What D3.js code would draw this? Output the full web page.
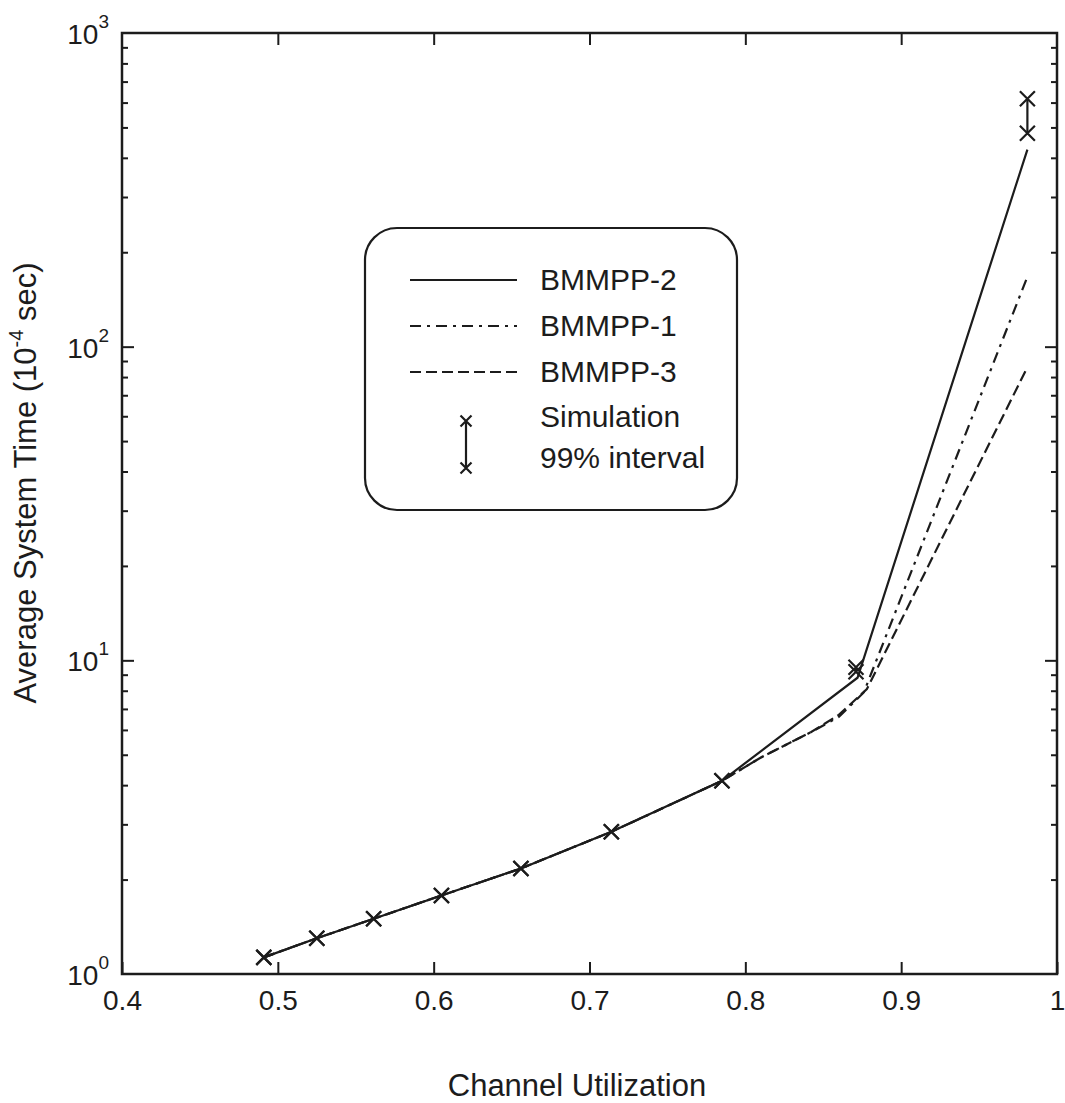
<!DOCTYPE html>
<html>
<head>
<meta charset="utf-8">
<script src="https://d3js.org/d3.v7.min.js"></script>
<style>
body { margin: 0; background: #fff; }
svg { font-family: "Liberation Sans", Arial, Helvetica, sans-serif; }
</style>
</head>
<body>
<svg id="chart" width="1065" height="1103"></svg>
<script>
// data
var xTicks = [0.4, 0.5, 0.6, 0.7, 0.8, 0.9, 1];
var yDecades = [1, 10, 100, 1000];
var yMinor = [2,3,4,5,6,7,8,9,20,30,40,50,60,70,80,90,200,300,400,500,600,700,800,900];

var simX    = [0.491, 0.525, 0.5615, 0.605, 0.656, 0.714, 0.785, 0.871, 0.981];
var simLow  = [1.13, 1.30, 1.50, 1.78, 2.17, 2.84, 4.13, 9.2, 479];
var simHigh = [1.13, 1.30, 1.50, 1.78, 2.17, 2.84, 4.13, 9.5, 617];

var bm2X = [0.491, 0.525, 0.5615, 0.605, 0.656, 0.714, 0.785, 0.872, 0.981];
var bm2Y = [1.13, 1.30, 1.50, 1.78, 2.17, 2.84, 4.13, 8.8, 425];

var bm1X = [0.491, 0.525, 0.5615, 0.605, 0.656, 0.714, 0.785, 0.81, 0.842, 0.86, 0.876, 0.981];
var bm1Y = [1.13, 1.30, 1.50, 1.78, 2.17, 2.84, 4.13, 4.9, 5.9, 6.6, 7.9, 167];

var bm3X = [0.491, 0.525, 0.5615, 0.605, 0.656, 0.714, 0.785, 0.81, 0.842, 0.86, 0.878, 0.981];
var bm3Y = [1.13, 1.30, 1.50, 1.78, 2.17, 2.84, 4.13, 4.9, 5.9, 6.7, 8.1, 86];

var legendNames = ["BMMPP-2", "BMMPP-1", "BMMPP-3"];
var legendDash = ["none", "11,6,3,6", "11,5"];

var ink = "#1c1c1c";
var svg = d3.select("#chart");

var x = d3.scaleLinear().domain([0.4, 1]).range([122, 1057]);
var y = d3.scaleLog().domain([1, 1000]).range([974, 33]);

// frame
svg.append("rect").attr("x", x(0.4)).attr("y", y(1000))
  .attr("width", x(1) - x(0.4)).attr("height", y(1) - y(1000))
  .attr("fill", "none").attr("stroke", ink).attr("stroke-width", 2.5);

function styleAxis(g) {
  g.select(".domain").remove();
  g.selectAll("line").attr("stroke", ink).attr("stroke-width", 2);
}

// x axis bottom with labels, top mirrored
var xb = svg.append("g").attr("transform", "translate(0," + y(1) + ")")
  .call(d3.axisBottom(x).tickValues(xTicks).tickSize(-12).tickPadding(16)
    .tickFormat(function(d) { return d === 1 ? "1" : d.toFixed(1); }));
styleAxis(xb);
xb.selectAll("text").attr("font-size", 28).attr("fill", ink)
  .attr("font-family", "Liberation Sans, Arial, sans-serif");

var xt = svg.append("g").attr("transform", "translate(0," + y(1000) + ")")
  .call(d3.axisTop(x).tickValues(xTicks.slice(1, -1)).tickSize(-12).tickFormat(""));
styleAxis(xt);

// y axes: majors, minors, left and right
var yl = svg.append("g").attr("transform", "translate(" + x(0.4) + ",0)")
  .call(d3.axisLeft(y).tickValues(yDecades.slice(1, -1)).tickSize(-12).tickFormat(""));
styleAxis(yl);
var ylm = svg.append("g").attr("transform", "translate(" + x(0.4) + ",0)")
  .call(d3.axisLeft(y).tickValues(yMinor).tickSize(-6).tickFormat(""));
styleAxis(ylm);
var yr = svg.append("g").attr("transform", "translate(" + x(1) + ",0)")
  .call(d3.axisRight(y).tickValues(yDecades.slice(1, -1)).tickSize(-12).tickFormat(""));
styleAxis(yr);
var yrm = svg.append("g").attr("transform", "translate(" + x(1) + ",0)")
  .call(d3.axisRight(y).tickValues(yMinor).tickSize(-6).tickFormat(""));
styleAxis(yrm);

// y labels 10^n
yDecades.forEach(function(d) {
  var t = svg.append("text").attr("x", x(0.4) - 13).attr("y", y(d) + 11)
    .attr("text-anchor", "end").attr("font-size", 28).attr("fill", ink);
  t.append("tspan").text("10");
  t.append("tspan").attr("font-size", 19).attr("dy", -16).text(Math.round(Math.log10(d)));
});

// curves
var line = d3.line().x(function(d) { return x(d[0]); }).y(function(d) { return y(d[1]); });
var series = [
  { xs: bm2X, ys: bm2Y, dash: legendDash[0] },
  { xs: bm1X, ys: bm1Y, dash: legendDash[1] },
  { xs: bm3X, ys: bm3Y, dash: legendDash[2] }
];
series.forEach(function(s) {
  svg.append("path").datum(d3.zip(s.xs, s.ys)).attr("d", line)
    .attr("fill", "none").attr("stroke", ink).attr("stroke-width", 2.2)
    .attr("stroke-dasharray", s.dash);
});

// simulation intervals and markers
function cross(g, cx, cy, h) {
  g.append("path").attr("d", "M" + (cx - h) + "," + (cy - h) + "L" + (cx + h) + "," + (cy + h) +
      "M" + (cx - h) + "," + (cy + h) + "L" + (cx + h) + "," + (cy - h))
    .attr("stroke", ink).attr("stroke-width", 2.2).attr("fill", "none");
}
var sim = svg.append("g");
simX.forEach(function(v, i) {
  if (simHigh[i] > simLow[i]) {
    sim.append("line").attr("x1", x(v)).attr("x2", x(v))
      .attr("y1", y(simHigh[i])).attr("y2", y(simLow[i]))
      .attr("stroke", ink).attr("stroke-width", 2.2);
  }
  cross(sim, x(v), y(simLow[i]), 7.5);
  cross(sim, x(v), y(simHigh[i]), 7.5);
});

// legend
var lg = svg.append("g");
lg.append("rect").attr("x", 365).attr("y", 228).attr("width", 372).attr("height", 282)
  .attr("rx", 32).attr("ry", 32).attr("fill", "#fff").attr("stroke", ink).attr("stroke-width", 2.2);
legendNames.forEach(function(n, i) {
  var ly = 280 + i * 46;
  lg.append("line").attr("x1", 410).attr("x2", 517).attr("y1", ly).attr("y2", ly)
    .attr("stroke", ink).attr("stroke-width", 2.2).attr("stroke-dasharray", legendDash[i]);
  lg.append("text").attr("x", 540).attr("y", ly + 10).attr("font-size", 30).attr("fill", ink).text(n);
});
lg.append("line").attr("x1", 466).attr("x2", 466).attr("y1", 421).attr("y2", 468)
  .attr("stroke", ink).attr("stroke-width", 2.2);
cross(lg, 466, 421, 5.5);
cross(lg, 466, 468, 5.5);
lg.append("text").attr("x", 540).attr("y", 427).attr("font-size", 30).attr("fill", ink).text("Simulation");
lg.append("text").attr("x", 540).attr("y", 468).attr("font-size", 30).attr("fill", ink).text("99% interval");

// axis titles
svg.append("text").attr("x", 577).attr("y", 1096).attr("text-anchor", "middle")
  .attr("font-size", 31).attr("fill", ink).text("Channel Utilization");

var yt = svg.append("text").attr("transform", "translate(36,483) rotate(-90)")
  .attr("text-anchor", "middle").attr("font-size", 31).attr("fill", ink);
yt.append("tspan").text("Average System Time (10");
yt.append("tspan").attr("font-size", 20).attr("dy", -13).text("-4");
yt.append("tspan").attr("dy", 13).text(" sec)");
</script>
</body>
</html>
